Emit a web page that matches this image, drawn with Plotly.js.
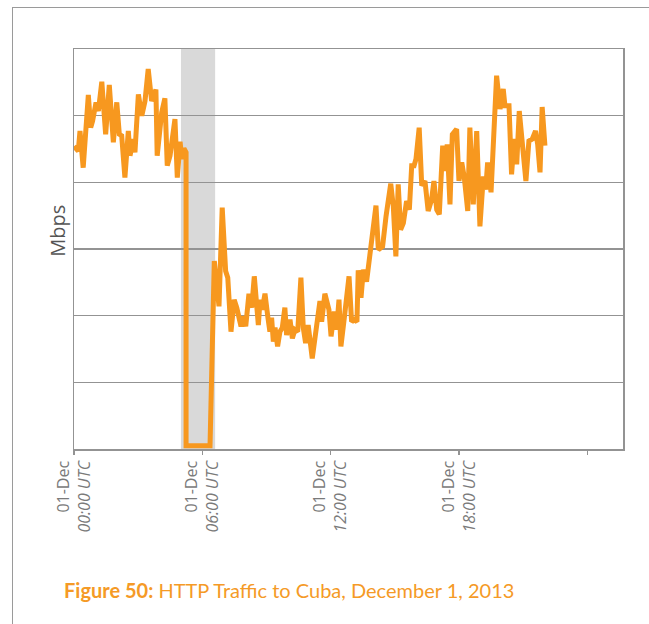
<!DOCTYPE html>
<html>
<head>
<meta charset="utf-8">
<script src="https://cdn.plot.ly/plotly-3.0.1.min.js"></script>
<style>
  body { margin: 0; background: #fff; }
  #frame { position: absolute; left: 12px; top: 7px; width: 700px; height: 700px;
           border-left: 1.5px solid #9a9a9a; border-top: 1.5px solid #9a9a9a; }
  #cubafig { position: absolute; left: 0; top: 0; width: 649px; height: 624px; }
</style>
</head>
<body>
<div id="frame"></div>
<div id="cubafig"></div>
<script>
// hours after 00:00 UTC, 1 Dec 2013
var hours = [0.00, 0.20, 0.28, 0.43, 0.67, 0.78, 0.87, 1.03, 1.14, 1.30, 1.48, 1.65, 1.84, 2.00, 2.12, 2.23,
  2.38, 2.54, 2.62, 2.77, 2.85, 3.01, 3.17, 3.32, 3.47, 3.63, 3.83, 3.89, 4.10, 4.25, 4.36, 4.49,
  4.72, 4.83, 4.96, 5.04, 5.14, 5.24, 5.24, 6.36, 6.56, 6.78, 6.93, 7.09, 7.19, 7.34, 7.49, 7.61,
  7.81, 7.92, 8.03, 8.18, 8.31, 8.43, 8.62, 8.70, 8.80, 8.93, 9.06, 9.16, 9.24, 9.32, 9.40, 9.52,
  9.63, 9.74, 9.86, 9.94, 10.10, 10.21, 10.33, 10.46, 10.61, 10.72, 10.83, 10.95, 11.14, 11.35,
  11.50, 11.58, 11.73, 11.92, 12.02, 12.17, 12.28, 12.39, 12.48, 12.64, 12.86, 12.98, 13.10, 13.23,
  13.29, 13.42, 13.53, 13.68, 13.84, 14.12, 14.23, 14.43, 14.59, 14.69, 14.81, 14.93, 15.05, 15.16,
  15.27, 15.40, 15.55, 15.68, 15.79, 15.90, 15.99, 16.14, 16.26, 16.41, 16.56, 16.72, 16.83, 16.96,
  17.08, 17.24, 17.36, 17.45, 17.58, 17.69, 17.89, 18.00, 18.13, 18.25, 18.41, 18.51, 18.67, 18.83,
  18.98, 19.14, 19.25, 19.34, 19.50, 19.76, 19.92, 20.07, 20.15, 20.34, 20.46, 20.58, 20.70, 20.82,
  21.01, 21.13, 21.27, 21.43, 21.58, 21.68, 21.79, 21.89, 22.02];
var mbps = [45.4, 44.7, 47.7, 42.2, 53.1, 48.2, 49.2, 52.0, 50.7, 55.1, 47.2, 54.6, 46.0, 52.0, 47.2, 47.0,
  40.7, 47.7, 44.0, 46.5, 44.5, 53.2, 50.0, 52.2, 57.0, 52.2, 53.9, 44.0, 50.5, 52.6, 42.5, 44.0,
  49.5, 40.7, 46.1, 43.5, 45.1, 44.5, 0.5, 0.5, 28.2, 21.4, 36.2, 26.7, 25.7, 17.6, 22.4, 21.2,
  18.4, 19.9, 18.4, 23.3, 21.2, 25.9, 18.6, 22.4, 20.9, 23.3, 19.9, 17.6, 19.7, 16.1, 18.2, 15.4,
  17.6, 18.2, 21.2, 17.1, 19.4, 16.6, 17.9, 17.6, 25.7, 18.2, 15.9, 18.6, 13.6, 18.6,
  22.2, 19.1, 23.3, 20.9, 16.9, 20.6, 17.9, 22.4, 15.4, 19.7, 25.9, 19.1, 19.4, 19.1,
  26.8, 22.7, 26.9, 25.1, 28.9, 36.5, 29.9, 30.4, 34.9, 36.9, 39.8, 36.4, 28.9, 39.7,
  32.9, 33.9, 37.2, 35.9, 42.5, 42.5, 43.5, 48.2, 39.5, 40.2, 35.7, 37.4, 40.2, 35.9,
  35.2, 45.5, 41.7, 45.7, 36.7, 47.2, 48.0, 40.2, 43.0, 40.7, 35.7, 48.2, 36.7, 47.7,
  33.4, 40.9, 38.9, 43.0, 38.5, 56.0, 51.0, 54.0, 51.5, 51.5, 41.2, 46.5, 42.7, 50.7,
  44.0, 40.2, 46.2, 46.5, 47.7, 45.7, 41.5, 51.3, 45.5];

var outageWindow = [5.0, 6.6];
var tickHours = [0, 6, 12, 18, 24];
var tickLabels = ['01-Dec<br><i>00:00 UTC</i>', '01-Dec<br><i>06:00 UTC</i>',
  '01-Dec<br><i>12:00 UTC</i>', '01-Dec<br><i>18:00 UTC</i>', ''];

var orange = '#f7981f';
var gridGray = '#939393';

var traffic = { x: hours, y: mbps, mode: 'lines', line: { color: orange, width: 5 }, hoverinfo: 'skip' };

var layout = {
  width: 649, height: 624,
  margin: { l: 74, r: 26, t: 49, b: 175 },
  paper_bgcolor: 'rgba(0,0,0,0)',
  plot_bgcolor: 'rgba(0,0,0,0)',
  showlegend: false,
  font: { family: 'Open Sans, sans-serif', color: '#777' },
  shapes: [{
    type: 'rect', xref: 'x', yref: 'paper',
    x0: outageWindow[0], x1: outageWindow[1], y0: 0, y1: 1,
    fillcolor: '#d9d9d9', line: { width: 0 }, layer: 'below'
  }],
  annotations: [{
    xref: 'paper', yref: 'paper', x: -0.058, y: 0.545,
    text: 'Mbps', textangle: -90, showarrow: false,
    font: { family: 'Open Sans, sans-serif', size: 20, color: '#555' }
  }, {
    xref: 'paper', yref: 'paper', x: -0.022, y: -0.3525,
    xanchor: 'left', yanchor: 'middle', showarrow: false,
    text: '<b>Figure 50:</b> HTTP Traffic to Cuba, December 1, 2013',
    font: { family: 'Lato, sans-serif', size: 20, color: '#f59a26' }
  }],
  xaxis: {
    range: [0, 25.67],
    tickvals: tickHours, ticktext: tickLabels,
    tickangle: -90,
    ticks: 'outside', ticklen: 4, tickcolor: gridGray, tickwidth: 1.5,
    tickfont: { family: 'Open Sans, sans-serif', size: 16, color: '#7a7a7a' },
    showgrid: false, zeroline: false,
    showline: true, mirror: true, linecolor: gridGray, linewidth: 1.5,
    fixedrange: true
  },
  yaxis: {
    range: [0, 60], dtick: 10,
    showticklabels: false, ticks: '',
    showgrid: true, gridcolor: gridGray, gridwidth: 1.5,
    zeroline: false,
    showline: true, mirror: true, linecolor: gridGray, linewidth: 1.5,
    fixedrange: true
  }
};

Plotly.newPlot('cubafig', [traffic], layout, { displayModeBar: false, staticPlot: true });
</script>
</body>
</html>
